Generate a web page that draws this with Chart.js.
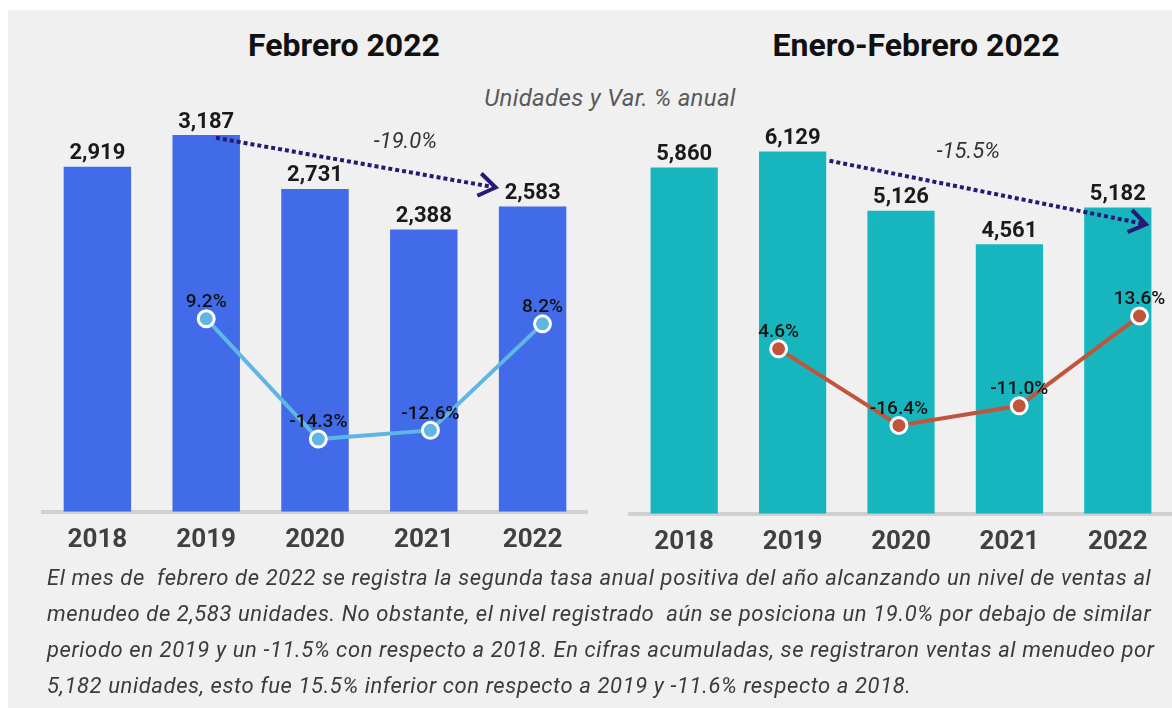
<!DOCTYPE html>
<html>
<head>
<meta charset="utf-8">
<script src="https://cdn.jsdelivr.net/npm/chart.js"></script>
<style>
  body { margin: 0; background: #fff; font-family: Roboto, sans-serif; }
  #panel { position: absolute; left: 8px; top: 10px; width: 1164px; height: 698px; background: #f0f0f0; }
  .title { position: absolute; font-weight: bold; font-size: 32px; line-height: 32px; color: #111; transform: translateX(-50%); white-space: nowrap; }
  .subtitle { position: absolute; font-style: italic; font-size: 24px; line-height: 24px; letter-spacing: 0.3px; color: #595959; transform: translateX(-50%); white-space: nowrap; }
  .caption { position: absolute; left: 47px; top: 560px; font-style: italic; font-size: 22px; line-height: 36px; letter-spacing: 0.6px; color: #3b3b3b; white-space: nowrap; }
  canvas { position: absolute; }
</style>
</head>
<body>
<div id="panel"></div>
<div class="title" style="left:344px;top:29px;">Febrero 2022</div>
<div class="title" style="left:916px;top:29px;">Enero-Febrero 2022</div>
<div class="subtitle" style="left:610px;top:86px;">Unidades y Var. % anual</div>
<canvas id="feb" width="582" height="560" style="left:8px;top:10px;"></canvas>
<canvas id="eneFeb" width="582" height="562" style="left:590px;top:10px;"></canvas>
<div class="caption">
El mes de&nbsp; febrero de 2022 se registra la segunda tasa anual positiva del año alcanzando un nivel de ventas al<br>
menudeo de 2,583 unidades. No obstante, el nivel registrado&nbsp; aún se posiciona un 19.0% por debajo de similar<br>
periodo en 2019 y un -11.5% con respecto a 2018. En cifras acumuladas, se registraron ventas al menudeo por<br>
5,182 unidades, esto fue 15.5% inferior con respecto a 2019 y -11.6% respecto a 2018.
</div>
<script>
var years = ["2018", "2019", "2020", "2021", "2022"];

// Febrero
var unitsFeb = [2919, 3187, 2731, 2388, 2583];
var pctFeb = [null, 9.2, -14.3, -12.6, 8.2];
var changeFeb = "-19.0%";

// Enero-Febrero
var unitsEneFeb = [5860, 6129, 5126, 4561, 5182];
var pctEneFeb = [null, 4.6, -16.4, -11.0, 13.6];
var changeEneFeb = "-15.5%";

function toPoints(pct) {
  var pts = [];
  pct.forEach(function (v, i) {
    if (v !== null) pts.push({ x: i, y: v });
  });
  return pts;
}

// labels on bars and line points
var valueLabels = {
  id: "valueLabels",
  afterDatasetsDraw: function (chart) {
    var ctx = chart.ctx;
    ctx.save();
    ctx.textAlign = "center";
    ctx.textBaseline = "bottom";
    var bars = chart.getDatasetMeta(1);
    ctx.font = "bold 22px Roboto";
    ctx.fillStyle = "#1a1a1a";
    bars.data.forEach(function (bar, i) {
      var v = chart.data.datasets[1].data[i];
      ctx.fillText(v.toLocaleString("en-US"), bar.x, bar.y - 2);
    });
    var line = chart.getDatasetMeta(0);
    ctx.font = "500 19px Roboto";
    ctx.fillStyle = "#111";
    line.data.forEach(function (pt, i) {
      var v = chart.data.datasets[0].data[i].y;
      ctx.fillText(v.toFixed(1) + "%", pt.x, pt.y - 7);
    });
    ctx.restore();
  }
};

// dotted arrow between 2019 and 2022
var trendArrow = {
  id: "trendArrow",
  afterDraw: function (chart, args, o) {
    var xs = chart.scales.x, ys = chart.scales.y, ctx = chart.ctx;
    var x1 = xs.getPixelForValue(o.from[0]), y1 = ys.getPixelForValue(o.from[1]);
    var x2 = xs.getPixelForValue(o.to[0]), y2 = ys.getPixelForValue(o.to[1]);
    ctx.save();
    ctx.strokeStyle = "#281a74";
    ctx.lineWidth = 4;
    ctx.setLineDash([4, 3]);
    ctx.beginPath();
    ctx.moveTo(x1, y1);
    ctx.lineTo(x2, y2);
    ctx.stroke();
    ctx.setLineDash([]);
    var a = Math.atan2(y2 - y1, x2 - x1);
    ctx.beginPath();
    ctx.moveTo(x2 - 20 * Math.cos(a - 0.6), y2 - 20 * Math.sin(a - 0.6));
    ctx.lineTo(x2, y2);
    ctx.lineTo(x2 - 20 * Math.cos(a + 0.6), y2 - 20 * Math.sin(a + 0.6));
    ctx.stroke();
    ctx.font = "italic 22px Roboto";
    ctx.fillStyle = "#333";
    ctx.textAlign = "center";
    ctx.textBaseline = "middle";
    ctx.fillText(o.label, xs.getPixelForValue(o.labelAt[0]), ys.getPixelForValue(o.labelAt[1]));
    ctx.restore();
  }
};

function makeChart(id, units, pct, barColor, lineColor, opts) {
  return new Chart(document.getElementById(id), {
    type: "bar",
    data: {
      labels: years,
      datasets: [
        {
          type: "line",
          order: 0,
          data: toPoints(pct),
          xAxisID: "x2",
          yAxisID: "y2",
          borderColor: lineColor,
          borderWidth: 4,
          pointRadius: 8,
          pointBorderWidth: 3,
          pointBorderColor: "#fff",
          pointBackgroundColor: lineColor,
          tension: 0
        },
        {
          order: 1,
          data: units,
          backgroundColor: barColor,
          grouped: false,
          barPercentage: 0.62,
          categoryPercentage: 1
        }
      ]
    },
    options: {
      responsive: false,
      animation: false,
      layout: { padding: opts.padding, autoPadding: false },
      plugins: {
        legend: { display: false },
        tooltip: { enabled: false },
        trendArrow: opts.arrow
      },
      scales: {
        x: {
          grid: { display: false, drawTicks: false },
          border: { display: true, color: "#d0d0d0", width: 4 },
          ticks: { color: "#404040", padding: 13, font: { family: "Roboto", size: 26, weight: "bold" } }
        },
        x2: { type: "linear", display: false, offset: false, min: opts.x2[0], max: opts.x2[1] },
        y: { display: false, min: 0, max: opts.yMax },
        y2: { display: false, min: opts.y2[0], max: opts.y2[1] }
      }
    },
    plugins: [valueLabels, trendArrow]
  });
}

makeChart("feb", unitsFeb, pctFeb, "#416be8", "#5fb6e4", {
  padding: { left: 35, right: 3, top: 88, bottom: 1 },
  yMax: 3500,
  y2: [-28.5, 52.3],
  x2: [-0.456, 4.397],
  arrow: { from: [1.09, 3163], to: [3.66, 2743], label: changeFeb, labelAt: [2.83, 3121] }
});

makeChart("eneFeb", unitsEneFeb, pctEneFeb, "#17b6bf", "#c0553b", {
  padding: { left: 40, right: 0, top: 90, bottom: 1 },
  yMax: 7000,
  y2: [-40.6, 72.8],
  x2: [-0.235, 4.27],
  arrow: { from: [1.34, 5973], to: [4.26, 4897], label: changeEneFeb, labelAt: [2.62, 6108] }
});
</script>
</body>
</html>
